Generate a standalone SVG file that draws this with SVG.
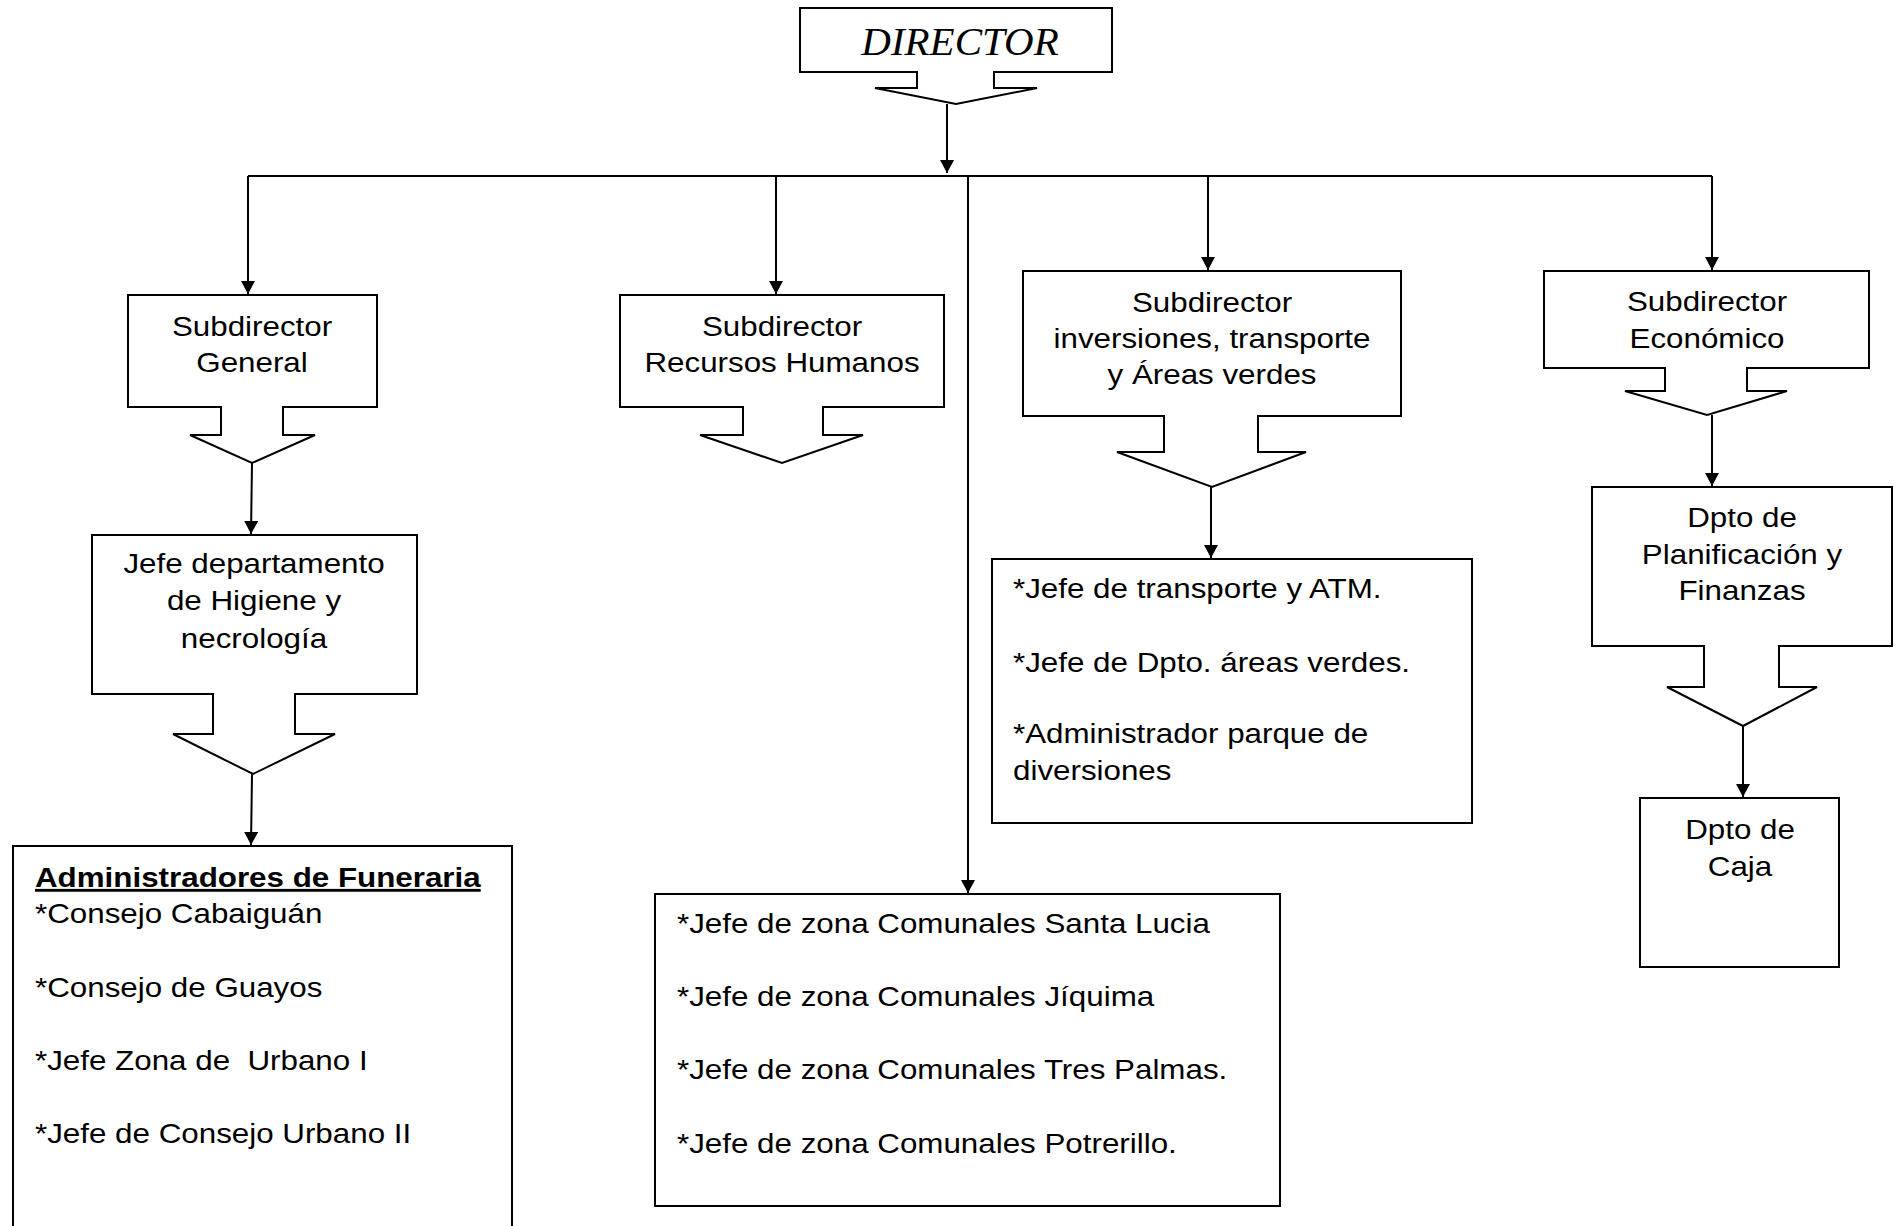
<svg xmlns="http://www.w3.org/2000/svg" width="1896" height="1226" viewBox="0 0 1896 1226">
<style>
.box{fill:#fff;stroke:#000;stroke-width:2}
.ln{fill:none;stroke:#000;stroke-width:2}
.t{font-family:"Liberation Sans",Arial,sans-serif;font-size:28.5px;fill:#000}
.c{text-anchor:middle}
.b{font-weight:bold;text-decoration:underline}
.dir{font-family:"Liberation Serif","Times New Roman",serif;font-style:italic;font-size:41px;text-anchor:middle;fill:#000}
</style>
<defs>
<marker id="ah" markerWidth="14" markerHeight="14" refX="13" refY="7" orient="auto" markerUnits="userSpaceOnUse">
<path d="M0,0 L13,7 L0,14 Z" fill="#000"/>
</marker>
</defs>
<rect width="1896" height="1226" fill="#fff"/>

<g id="connectors">
<line class="ln" x1="947" y1="104" x2="947" y2="173" marker-end="url(#ah)"/>
<line class="ln" x1="248" y1="176" x2="1712" y2="176"/>
<line class="ln" x1="248" y1="176" x2="248" y2="294" marker-end="url(#ah)"/>
<line class="ln" x1="776" y1="176" x2="776" y2="294" marker-end="url(#ah)"/>
<line class="ln" x1="968" y1="176" x2="968" y2="893" marker-end="url(#ah)"/>
<line class="ln" x1="1208" y1="176" x2="1208" y2="270" marker-end="url(#ah)"/>
<line class="ln" x1="1712" y1="176" x2="1712" y2="270" marker-end="url(#ah)"/>
<line class="ln" x1="252" y1="463" x2="251" y2="534" marker-end="url(#ah)"/>
<line class="ln" x1="252" y1="774" x2="251" y2="845" marker-end="url(#ah)"/>
<line class="ln" x1="1211" y1="487" x2="1211" y2="558" marker-end="url(#ah)"/>
<line class="ln" x1="1712" y1="415" x2="1712" y2="486" marker-end="url(#ah)"/>
<line class="ln" x1="1743" y1="726" x2="1743" y2="797" marker-end="url(#ah)"/>
</g>

<g id="director">
<path class="box" d="M800,8 H1112 V72 H994 V88 H1037 L956,104 L875,88 H917 V72 H800 Z"/>
<text class="dir" x="960" y="55">DIRECTOR</text>
</g>

<g id="sub-general">
<path class="box" d="M128,295 H377 V407 H283 V435 H315 L252,463 L190,435 H221 V407 H128 Z"/>
<text class="t c" transform="translate(252,336) scale(1.1,1)"><tspan x="0" y="0">Subdirector</tspan><tspan x="0" y="36">General</tspan></text>
</g>

<g id="sub-rrhh">
<path class="box" d="M620,295 H944 V407 H823 V435 H863 L782,463 L700,435 H743 V407 H620 Z"/>
<text class="t c" transform="translate(782,336) scale(1.1,1)"><tspan x="0" y="0">Subdirector</tspan><tspan x="0" y="36">Recursos Humanos</tspan></text>
</g>

<g id="sub-inversiones">
<path class="box" d="M1023,271 H1401 V416 H1258 V452 H1306 L1212,487 L1117,452 H1164 V416 H1023 Z"/>
<text class="t c" transform="translate(1212,312) scale(1.1,1)"><tspan x="0" y="0">Subdirector</tspan><tspan x="0" y="36">inversiones, transporte</tspan><tspan x="0" y="72">y Áreas verdes</tspan></text>
</g>

<g id="sub-economico">
<path class="box" d="M1544,271 H1869 V368 H1747 V391 H1787 L1707,415 L1625,391 H1665 V368 H1544 Z"/>
<text class="t c" transform="translate(1707,311) scale(1.1,1)"><tspan x="0" y="0">Subdirector</tspan><tspan x="0" y="37">Económico</tspan></text>
</g>

<g id="jefe-higiene">
<path class="box" d="M92,535 H417 V694 H295 V734 H335 L253,774 L173,734 H213 V694 H92 Z"/>
<text class="t c" transform="translate(254,573) scale(1.1,1)"><tspan x="0" y="0">Jefe departamento</tspan><tspan x="0" y="37">de Higiene y</tspan><tspan x="0" y="75">necrología</tspan></text>
</g>

<g id="dpto-planificacion">
<path class="box" d="M1592,487 H1892 V646 H1779 V687 H1817 L1743,726 L1667,687 H1704 V646 H1592 Z"/>
<text class="t c" transform="translate(1742,527) scale(1.1,1)"><tspan x="0" y="0">Dpto de</tspan><tspan x="0" y="37">Planificación y</tspan><tspan x="0" y="73">Finanzas</tspan></text>
</g>

<g id="dpto-caja">
<rect class="box" x="1640" y="798" width="199" height="169"/>
<text class="t c" transform="translate(1740,839) scale(1.1,1)"><tspan x="0" y="0">Dpto de</tspan><tspan x="0" y="37">Caja</tspan></text>
</g>

<g id="jefes-transporte">
<rect class="box" x="992" y="559" width="480" height="264"/>
<text class="t" transform="translate(1013,598) scale(1.1,1)"><tspan x="0" y="0">*Jefe de transporte y ATM.</tspan><tspan x="0" y="74">*Jefe de Dpto. áreas verdes.</tspan><tspan x="0" y="145">*Administrador parque de</tspan><tspan x="0" y="182">diversiones</tspan></text>
</g>

<g id="jefes-zona">
<rect class="box" x="655" y="894" width="625" height="312"/>
<text class="t" transform="translate(677,933) scale(1.1,1)"><tspan x="0" y="0">*Jefe de zona Comunales Santa Lucia</tspan><tspan x="0" y="73">*Jefe de zona Comunales Jíquima</tspan><tspan x="0" y="146">*Jefe de zona Comunales Tres Palmas.</tspan><tspan x="0" y="220">*Jefe de zona Comunales Potrerillo.</tspan></text>
</g>

<g id="administradores">
<rect class="box" x="13" y="846" width="499" height="420"/>
<text class="t b" transform="translate(35,887) scale(1.1,1)">Administradores de Funeraria</text>
<text class="t" transform="translate(35,923) scale(1.1,1)"><tspan x="0" y="0">*Consejo Cabaiguán</tspan><tspan x="0" y="74">*Consejo de Guayos</tspan><tspan x="0" y="147">*Jefe Zona de&#160; Urbano I</tspan><tspan x="0" y="220">*Jefe de Consejo Urbano II</tspan></text>
</g>
</svg>
